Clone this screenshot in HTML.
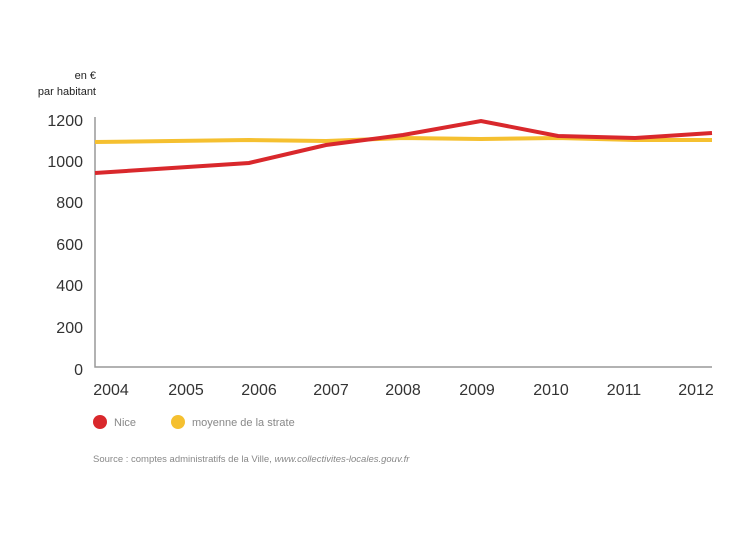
<!DOCTYPE html>
<html><head><meta charset="utf-8"><style>
body{margin:0;background:#fff;width:750px;height:536px;overflow:hidden}
svg{font-family:"Liberation Sans",sans-serif}
</style></head><body>
<svg width="750" height="536" xmlns="http://www.w3.org/2000/svg">
<text x="96" y="79" font-size="11" text-anchor="end" fill="#222">en €</text>
<text x="96" y="95" font-size="11" text-anchor="end" fill="#222">par habitant</text>
<g font-size="16" fill="#333" text-anchor="end">
<text x="83" y="126">1200</text><text x="83" y="167">1000</text><text x="83" y="208">800</text>
<text x="83" y="250">600</text><text x="83" y="291">400</text><text x="83" y="333">200</text><text x="83" y="375">0</text>
</g>
<path d="M95 117V367H712" fill="none" stroke="#999" stroke-width="1.5"/>
<g font-size="16" fill="#333" text-anchor="middle">
<text x="111" y="395">2004</text><text x="186" y="395">2005</text><text x="259" y="395">2006</text>
<text x="331" y="395">2007</text><text x="403" y="395">2008</text><text x="477" y="395">2009</text>
<text x="551" y="395">2010</text><text x="624" y="395">2011</text><text x="696" y="395">2012</text>
</g>
<polyline points="95,142 172,141 249,140 326,141 403,138 481,139 558,138 635,140 712,140" fill="none" stroke="#f5c030" stroke-width="4"/>
<polyline points="95,173 172,168 249,163 326,145 403,135 481,121 558,136 635,138 712,133" fill="none" stroke="#d9282c" stroke-width="4"/>
<circle cx="100" cy="422" r="7" fill="#d9282c"/>
<text x="114" y="426" font-size="11" fill="#888">Nice</text>
<circle cx="178" cy="422" r="7" fill="#f5c030"/>
<text x="192" y="426" font-size="11" fill="#888">moyenne de la strate</text>
<text x="93" y="462" font-size="9.5" fill="#888">Source : comptes administratifs de la Ville, <tspan font-style="italic">www.collectivites-locales.gouv.fr</tspan></text>
</svg>
</body></html>
